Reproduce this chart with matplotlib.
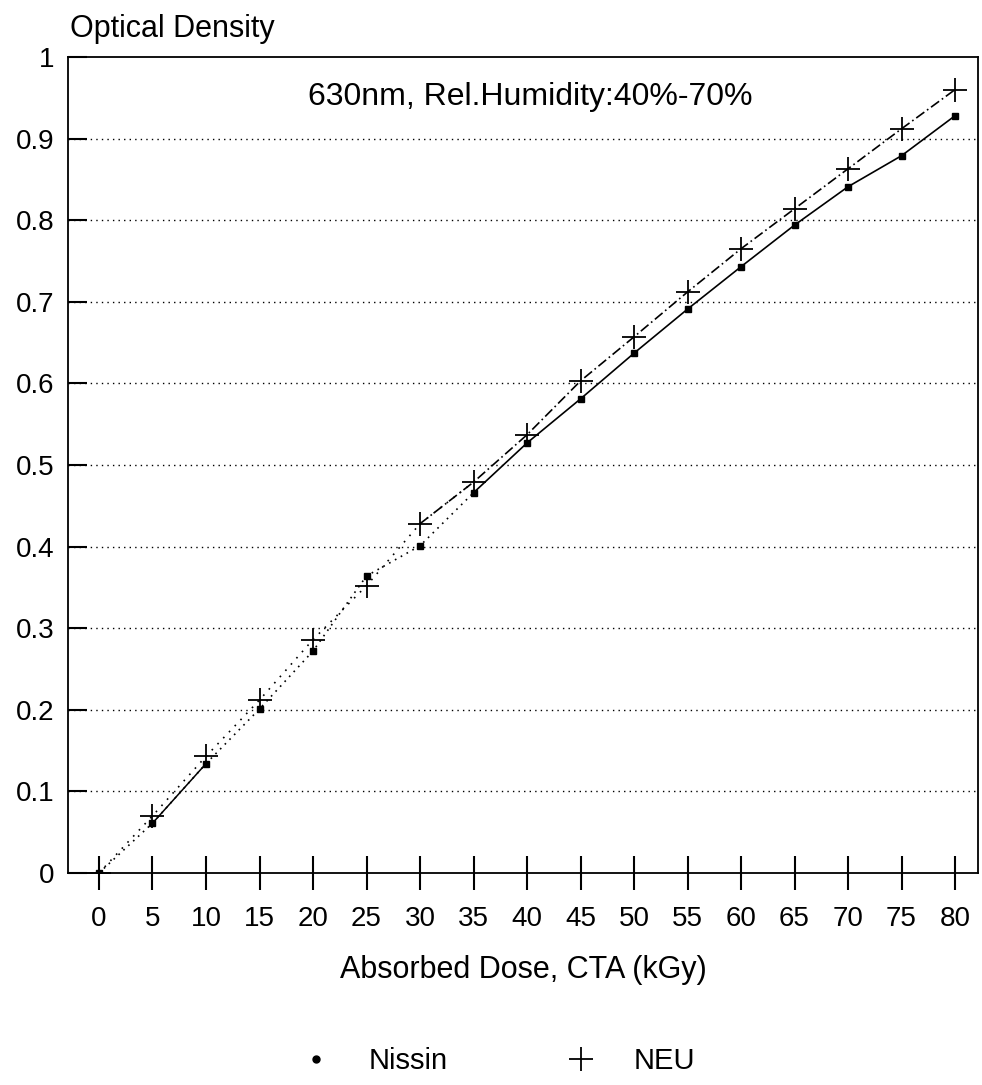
import matplotlib

matplotlib.use("Agg")
import matplotlib.pyplot as plt
from matplotlib.lines import Line2D

plt.rcParams["font.family"] = ["Liberation Sans", "DejaVu Sans"]

dose = [0, 5, 10, 15, 20, 25, 30, 35, 40, 45, 50, 55, 60, 65, 70, 75, 80]
nissin = [0.0, 0.061, 0.134, 0.201, 0.272, 0.364, 0.401, 0.466, 0.527,
          0.581, 0.637, 0.691, 0.743, 0.794, 0.841, 0.879, 0.928]
neu = [0.0, 0.070, 0.143, 0.212, 0.286, 0.352, 0.428, 0.479, 0.537,
       0.603, 0.657, 0.712, 0.765, 0.814, 0.863, 0.912, 0.960]
x_ticks = list(range(0, 81, 5))
y_ticks = [0, 0.1, 0.2, 0.3, 0.4, 0.5, 0.6, 0.7, 0.8, 0.9, 1]
y_labels = ["0", "0.1", "0.2", "0.3", "0.4", "0.5", "0.6", "0.7", "0.8", "0.9", "1"]

fig = plt.figure(figsize=(9.82, 10.85), dpi=100)
ax = fig.add_axes([0.0692, 0.1954, 0.9268, 0.7521])
ax.set_xlim(-2.9, 82.15)
ax.set_ylim(0, 1)

# horizontal dotted grid
for yv in y_ticks[1:-1]:
    ax.axhline(yv, color="black", ls=(0, (1, 3)), lw=1.0, zorder=1)

# low-dose part: dotted lines through both series
k = 8
ax.plot(dose[:k], nissin[:k], color="black", ls=(0, (1, 3)), lw=1.2, zorder=2)
ax.plot(dose[:k], neu[:k], color="black", ls=(0, (1, 4)), lw=1.2, zorder=2)
ax.plot(dose[1:3], nissin[1:3], color="black", ls="-", lw=1.1, zorder=2)
# high-dose part
ax.plot(dose[k - 1:], nissin[k - 1:], color="black", ls="-", lw=1.2, zorder=2)
ax.plot(dose[k - 2:], neu[k - 2:], color="black", ls=(0, (6, 2, 1, 2)), lw=1.2, zorder=2)

ax.plot(dose, nissin, ls="none", marker="s", ms=5, color="black", zorder=3)
ax.plot(dose, neu, ls="none", marker="+", ms=17, mew=1.3, color="black", zorder=3)

ax.set_xticks(x_ticks)
ax.set_xticklabels([str(v) for v in x_ticks], fontsize=20)
ax.set_yticks(y_ticks)
ax.set_yticklabels(y_labels, fontsize=20)
ax.tick_params(axis="x", direction="inout", length=25, width=1.5, pad=11)
ax.tick_params(axis="y", direction="in", length=14, width=1.5, pad=10)
for s in ax.spines.values():
    s.set_linewidth(1.3)

ax.text(0.508, 0.951, "630nm, Rel.Humidity:40%-70%", transform=ax.transAxes,
        ha="center", va="center", fontsize=23)
ax.set_xlabel("Absorbed Dose, CTA (kGy)", fontsize=22, labelpad=17)
fig.text(70 / 982, 1 - 37 / 1085, "Optical Density", fontsize=22, ha="left", va="baseline")

handles = [
    Line2D([], [], ls="none", marker="o", ms=5, color="black", label="Nissin"),
    Line2D([], [], ls="none", marker="+", ms=17, mew=1.3, color="black", label="NEU"),
]
fig.legend(handles=handles, loc="center", bbox_to_anchor=(0.5, 0.022), ncol=2,
           frameon=False, fontsize=21, columnspacing=3.6, handletextpad=0.8)

fig.savefig("out.png", dpi=100)
